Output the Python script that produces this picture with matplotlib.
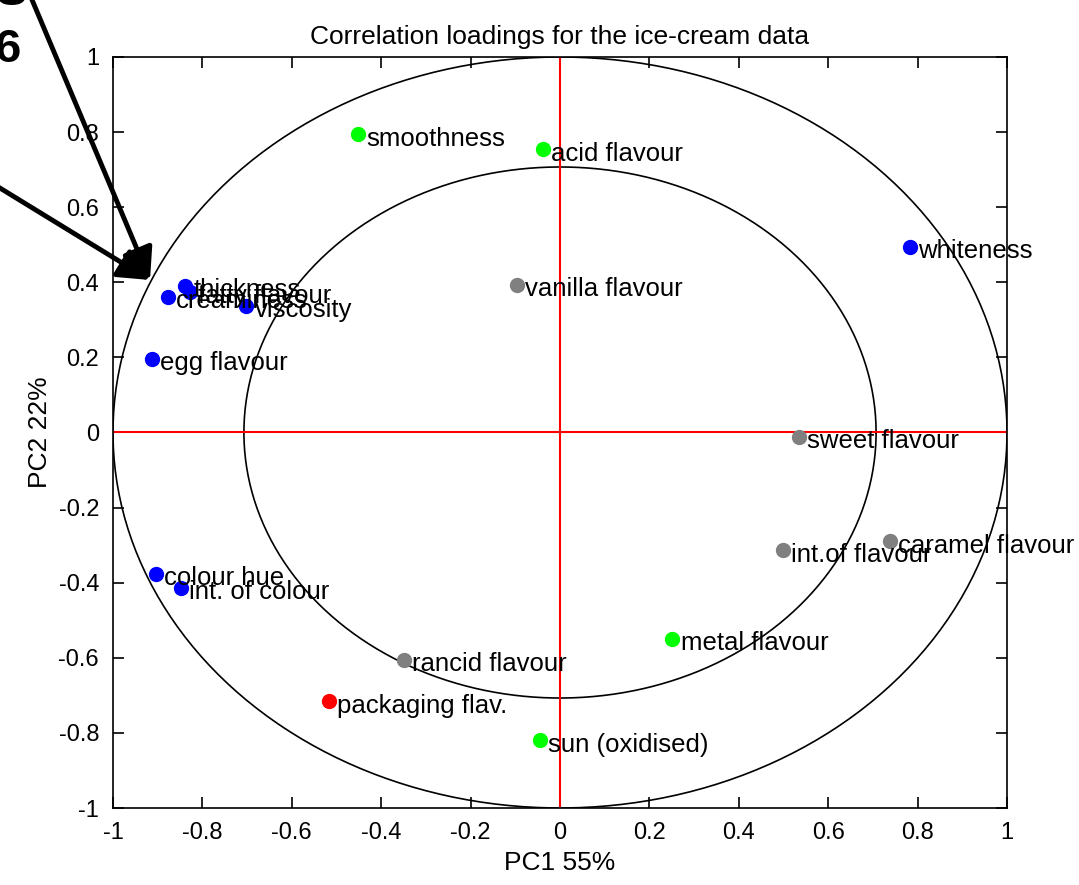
import numpy as np
import matplotlib
matplotlib.use('Agg')
import matplotlib.pyplot as plt

names = ['smoothness', 'acid flavour', 'whiteness', 'vanilla flavour',
         'thickness', 'fatty flavour', 'creaminess', 'viscosity',
         'egg flavour', 'sweet flavour', 'caramel flavour', 'int.of flavour',
         'colour hue', 'int. of colour', 'metal flavour', 'rancid flavour',
         'packaging flav.', 'sun (oxidised)']
pc1 = [-0.452, -0.038, 0.783, -0.096,
       -0.839, -0.828, -0.877, -0.702,
       -0.913, 0.535, 0.738, 0.499,
       -0.904, -0.848, 0.251, -0.349,
       -0.517, -0.045]
pc2 = [0.794, 0.754, 0.495, 0.394,
       0.391, 0.375, 0.360, 0.336,
       0.197, -0.011, -0.290, -0.314,
       -0.376, -0.413, -0.549, -0.605,
       -0.716, -0.820]
groups = ['g', 'g', 'b', 'k',
          'b', 'b', 'b', 'b',
          'b', 'k', 'k', 'k',
          'b', 'b', 'g', 'k',
          'r', 'g']
colours = {'b': '#0000ff', 'g': '#00ff00', 'k': '#808080', 'r': '#ff0000'}
ticks = [-1, -0.8, -0.6, -0.4, -0.2, 0, 0.2, 0.4, 0.6, 0.8, 1]
tick_labels = ['-1', '-0.8', '-0.6', '-0.4', '-0.2', '0', '0.2', '0.4', '0.6', '0.8', '1']

font = ['Liberation Sans', 'DejaVu Sans']
plt.rcParams['font.family'] = font

fig = plt.figure(figsize=(10.79, 8.85), dpi=100)
ax = fig.add_axes([0.1047, 0.0870, 0.8286, 0.8486])

t = np.linspace(0, 2 * np.pi, 400)
ax.plot(np.cos(t), np.sin(t), color='black', lw=1.2)
r = np.sqrt(0.5)
ax.plot(r * np.cos(t), r * np.sin(t), color='black', lw=1.2)
ax.axhline(0, color='red', lw=1.5)
ax.axvline(0, color='red', lw=1.5)

for n, x, y, g in zip(names, pc1, pc2, groups):
    ax.plot(x, y, 'o', color=colours[g], ms=10, mec=colours[g], zorder=5)
    ax.annotate(n, (x, y), xytext=(6, -3), textcoords='offset points',
                fontsize=18.5, va='center', ha='left', zorder=6)

ax.set_xlim(-1, 1)
ax.set_ylim(-1, 1)
ax.set_xticks(ticks)
ax.set_xticklabels(tick_labels)
ax.set_yticks(ticks)
ax.set_yticklabels(tick_labels)
ax.tick_params(direction='in', length=8, width=1.2, labelsize=17,
               top=True, right=True, pad=10)
for s in ax.spines.values():
    s.set_linewidth(1.2)

ax.set_title('Correlation loadings for the ice-cream data', fontsize=19, pad=9)
ax.set_xlabel('PC1 55%', fontsize=19, labelpad=5)
ax.set_ylabel('PC2 22%', fontsize=19, labelpad=5)

# annotation arrows drawn on top of the figure
arrow = dict(arrowstyle='-|>', color='black', lw=3.5, mutation_scale=48,
             shrinkA=0, shrinkB=0)
ax.annotate('', xy=(150, 605), xycoords='figure pixels',
            xytext=(30, 890), textcoords='figure pixels', arrowprops=arrow)
ax.annotate('', xy=(150, 605), xycoords='figure pixels',
            xytext=(-5, 700), textcoords='figure pixels', arrowprops=arrow)
fig.text(-6, 823, '6', fontsize=34, fontweight='bold', family=font,
         transform=None, va='baseline', ha='left')
fig.text(-4, 880, 'S', fontsize=34, fontweight='bold', family=font,
         transform=None, va='baseline', ha='left')

fig.savefig('out.png', dpi=100)
